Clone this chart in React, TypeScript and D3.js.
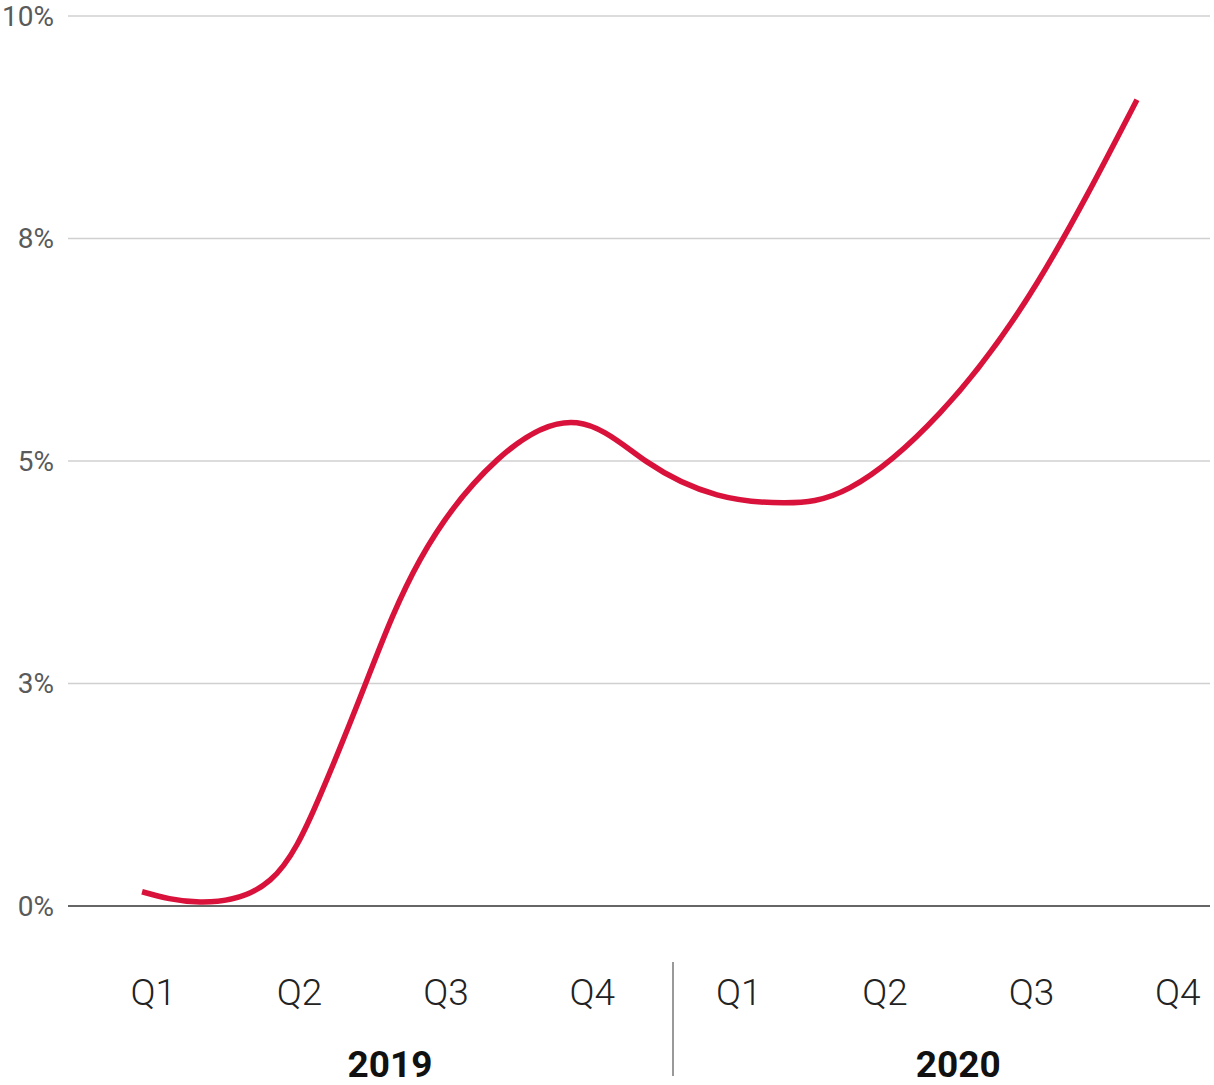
import React from "react";
import * as d3 from "d3";

// period position in quarters from start of 2019 (0 = start of 2019 Q1)
const periods = [
  0.424, 0.82, 1.298, 1.64, 1.954, 2.323, 2.849, 3.395, 3.874, 4.352, 4.803,
  5.261, 5.875, 6.538, 7.221,
];
// growth, percent
const values = [
  0.16, 0.045, 0.29, 1.24, 2.51, 3.89, 5.01, 5.43, 4.99, 4.62, 4.53,
  4.7, 5.54, 7.0, 9.06,
];
const quarterLabels = ["Q1", "Q2", "Q3", "Q4", "Q1", "Q2", "Q3", "Q4"];
const years = ["2019", "2020"];
const yTicks = [0, 2.5, 5, 7.5, 10];

const W = 1214;
const H = 1085;

export default function App() {
  const x = d3.scaleLinear().domain([0, 8]).range([80, 1251]);
  const y = d3.scaleLinear().domain([0, 10]).range([906, 16]);
  const fmt = d3.format(".0%");
  const data = periods.map((p, i) => ({ p, v: values[i] }));
  const line = d3
    .line<{ p: number; v: number }>()
    .x((d) => x(d.p))
    .y((d) => y(d.v))
    .curve(d3.curveNatural);
  const gridX0 = 68;
  const gridX1 = 1210;
  const sepX = x(4) + 7.5;
  const yearCenters = [390, (x(4.5) + x(7.5)) / 2];
  return (
    <svg
      width={W}
      height={H}
      style={{ position: "absolute", left: 0, top: 0, background: "#fff" }}
      fontFamily="Roboto, sans-serif"
    >
      {yTicks.map((t) => (
        <g key={t}>
          <line
            x1={gridX0}
            x2={gridX1}
            y1={y(t)}
            y2={y(t)}
            stroke={t === 0 ? "#333" : "#d0d0d0"}
            strokeWidth={1.5}
          />
          <text
            x={54}
            y={y(t)}
            textAnchor="end"
            dominantBaseline="central"
            fontSize={28}
            fill="#5a5a5a"
          >
            {fmt(Math.round(t) / 100)}
          </text>
        </g>
      ))}
      <path d={line(data) || ""} fill="none" stroke="#d8123a" strokeWidth={5.5} />
      {quarterLabels.map((q, i) => (
        <text
          key={i}
          x={x(i + 0.5)}
          y={1005}
          textAnchor="middle"
          fontSize={37}
          fontWeight={300}
          fill="#222"
        >
          {q}
        </text>
      ))}
      <line x1={sepX} x2={sepX} y1={962} y2={1076} stroke="#777" strokeWidth={1.5} />
      {years.map((yr, i) => (
        <text
          key={yr}
          x={yearCenters[i]}
          y={1077}
          textAnchor="middle"
          fontSize={37}
          fontWeight={700}
          fill="#111"
        >
          {yr}
        </text>
      ))}
    </svg>
  );
}
